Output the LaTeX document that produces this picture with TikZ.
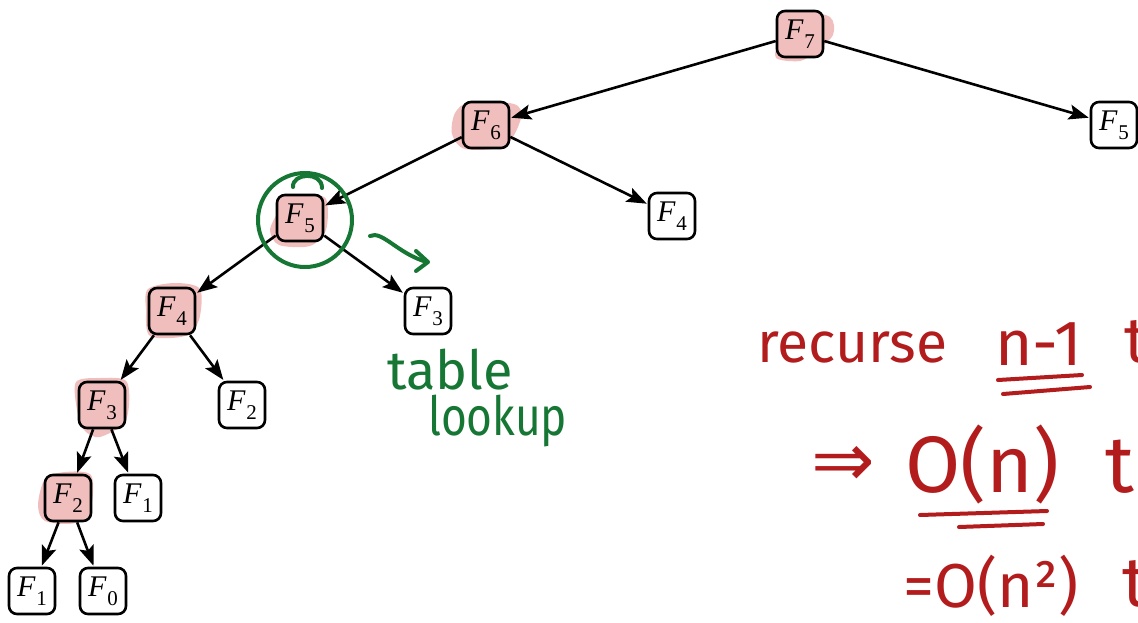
\documentclass[tikz,border=0pt]{standalone}
\usepackage{fontspec}
\usetikzlibrary{arrows.meta}
\newfontfamily\hand{Fira Sans}
\newfontfamily\djv{DejaVu Sans}
\newfontfamily\lab{Liberation Serif}
\newcommand\Fsub[1]{{\itshape F}\kern1pt\raisebox{-9pt}{\fontsize{21}{21}\selectfont #1}}
\definecolor{pinkfill}{RGB}{241,190,190}
\definecolor{inkred}{RGB}{178,28,28}
\definecolor{inkgreen}{RGB}{22,118,52}
\tikzset{
  fbox/.style={draw, line width=2.6pt, rounded corners=8pt, minimum size=46pt, inner sep=0pt, fill=white,
    font=\lab\fontsize{30}{30}\selectfont},
  hl/.style={fbox, fill=pinkfill},
  blob/.style={fill=pinkfill, draw=none},
  edge/.style={line width=2.6pt, -{Stealth[length=20pt,width=15pt,inset=4pt]}, shorten >=1pt},
  redtxt/.style={inkred, inner sep=0pt, anchor=base west},
  greentxt/.style={inkgreen, inner sep=0pt, anchor=base west, font=\hand\fontsize{54}{60}\selectfont},
  redline/.style={inkred, line width=4pt, line cap=round},
  greenline/.style={inkgreen, line width=4pt, line cap=round, line join=round}
}
\begin{document}
\begin{tikzpicture}[x=1pt,y=-1pt]
\useasboundingbox (0,0) rectangle (1138,622);
\clip (0,0) rectangle (1138,622);
% pink highlight blobs
\fill[blob] plot[smooth cycle] coordinates {(778,18) (800,11) (830,17) (833,35) (815,52) (800,61) (776,58) (778,40)};
\fill[blob] plot[smooth cycle] coordinates {(455,113) (470,102) (514,104) (521,118) (505,146) (465,149) (452,134)};
\fill[blob] plot[smooth cycle] coordinates {(285,199) (305,194) (326,199) (326,230) (310,246) (279,245) (270,230) (279,210)};
\fill[blob] plot[smooth cycle] coordinates {(148,289) (175,283) (200,289) (199,320) (185,336) (150,336) (146,310)};
\fill[blob] plot[smooth cycle] coordinates {(76,382) (100,378) (127,382) (126,420) (100,437) (84,430) (77,410)};
\fill[blob] plot[smooth cycle] coordinates {(45,479) (65,472) (91,475) (91,506) (75,523) (45,521) (38,505)};
% nodes
\node[hl]   (f7)  at (800,34)  {\Fsub{7}};
\node[hl]   (f6)  at (486,125) {\Fsub{6}};
\node[fbox] (f5r) at (1114,125) {\Fsub{5}};
\node[hl]   (f5)  at (300,218) {\Fsub{5}};
\node[fbox] (f4r) at (672,216) {\Fsub{4}};
\node[hl]   (f4)  at (172,311) {\Fsub{4}};
\node[fbox] (f3r) at (428,311) {\Fsub{3}};
\node[hl]   (f3)  at (102,405) {\Fsub{3}};
\node[fbox] (f2r) at (242,405) {\Fsub{2}};
\node[hl]   (f2)  at (68,498)  {\Fsub{2}};
\node[fbox] (f1r) at (138,498) {\Fsub{1}};
\node[fbox] (f1)  at (32,591)  {\Fsub{1}};
\node[fbox] (f0)  at (103,591) {\Fsub{0}};
% edges
\draw[edge] (f7) -- (f6);
\draw[edge] (f7) -- (f5r);
\draw[edge] (f6) -- (f5);
\draw[edge] (f6) -- (f4r);
\draw[edge] (f5) -- (f4);
\draw[edge] (f5) -- (f3r);
\draw[edge] (f4) -- (f3);
\draw[edge] (f4) -- (f2r);
\draw[edge] (f3) -- (f2);
\draw[edge] (f3) -- (f1r);
\draw[edge] (f2) -- (f1);
\draw[edge] (f2) -- (f0);
% green annotation
\draw[greenline] (305,220) circle [radius=47pt];
\draw[greenline] (293,187) .. controls (292,173) and (322,171) .. (322,188);
\draw[greenline] (370,236) .. controls (382,230) and (398,254) .. (427,262);
\draw[greenline] (416,251) -- (428,262) -- (416,271);
\node[greentxt] (t1) at (387,389) {table};
\node[greentxt] (t2) at (428,435) {\scalebox{0.82}[1]{lookup}};
% red annotation
\node[redtxt, font=\hand\fontsize{57}{60}\selectfont] (r1) at (757,362) {recurse};
\node[redtxt, font=\hand\fontsize{64}{70}\selectfont] (r2) at (995,365) {n-1};
\node[redtxt, font=\hand\fontsize{64}{70}\selectfont] (r3) at (1124,362) {t};
\draw[redline] (998,380) -- (1082,375);
\draw[redline] (1003,394) -- (1090,387);
\node[redtxt, font=\djv\fontsize{76}{80}\selectfont] (r4) at (811,486) {⇒};
\node[redtxt, font=\hand\fontsize{80}{90}\selectfont] (r5) at (905,492) {O(n)};
\node[redtxt, font=\hand\fontsize{80}{90}\selectfont] (r6) at (1105,492) {t};
\draw[redline] (920,515) -- (1047,511);
\draw[redline] (959,527) -- (1043,524);
\node[redtxt, font=\hand\fontsize{62}{70}\selectfont] (r7) at (903,607) {=O(n²)};
\node[redtxt, font=\hand\fontsize{70}{80}\selectfont] (r8) at (1122,606) {t};
\end{tikzpicture}
\end{document}
